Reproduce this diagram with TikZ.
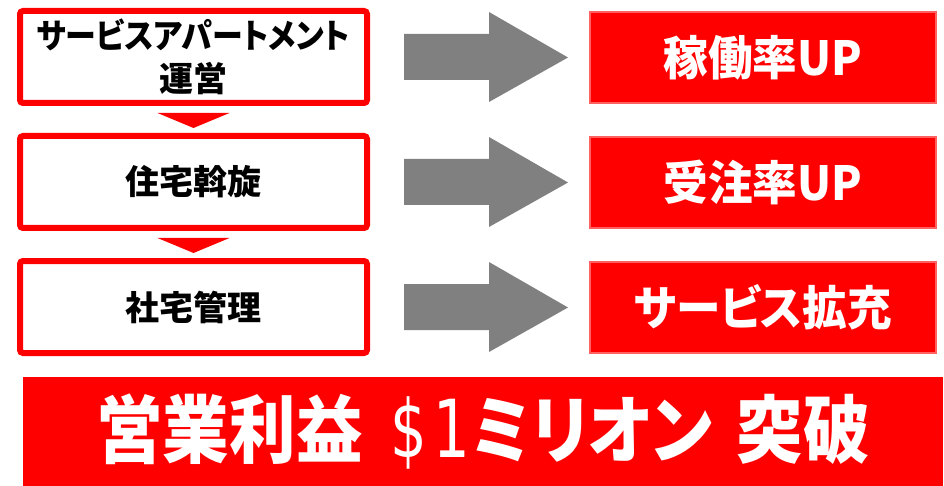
\documentclass[tikz,border=0pt]{standalone}
\usepackage{fontspec}
\usepackage{tikz}
\usetikzlibrary{calc}
\setmainfont{Noto Sans CJK JP}[RawFeature=+palt]
\newfontfamily\narrowfont{Noto Sans CJK JP}[RawFeature=+palt, FakeStretch=0.91]
\newfontfamily\resultfont{Noto Sans CJK JP}[RawFeature=+palt, FakeStretch=0.95]
\newfontfamily\goalfont{Noto Sans CJK JP}[RawFeature=+palt, FakeStretch=0.9]
\newfontfamily\dollarfont{DejaVu Sans ExtraLight}[FakeStretch=0.72]
\definecolor{boxred}{HTML}{FF0000}
\definecolor{edgered}{HTML}{FF6060}
\definecolor{arrowgray}{HTML}{808080}

\begin{document}
\begin{tikzpicture}[x=1pt, y=-1pt,
    stagebox/.style={draw=boxred, line width=6pt, rounded corners=3pt, fill=white,
      minimum width=347pt, minimum height=92pt, align=center,
      font=\fontsize{34}{43}\selectfont\bfseries},
    resultbox/.style={draw=edgered, line width=2pt, fill=boxred, text=white,
      minimum width=346pt, minimum height=91pt,
      font=\fontsize{47}{50}\resultfont\bfseries},
    goalbox/.style={fill=boxred, text=white, inner sep=0pt,
      minimum width=920pt, minimum height=109pt,
      font=\fontsize{74}{78}\goalfont\bfseries}]

    \useasboundingbox (0,0) rectangle (944,486);

    % left column
    \node[stagebox] (svc) at (193.5,57) {{\narrowfont\bfseries サービスアパートメント}\\運営};

    \node[stagebox] (hou) at (193.5,182) {住宅斡旋};

    \node[stagebox] (com) at (193.5,307) {社宅管理};


    % right column
    \node[resultbox] (occ) at (763,57.5) {稼働率UP};

    \node[resultbox] (ord) at (763,182.5) {受注率UP};

    \node[resultbox] (ext) at (763,307.5) {サービス拡充};


    % bottom line
    \node[goalbox] (goal) at (483,431.5)
      {営業利益\hspace{28pt}{\fontsize{80}{80}\dollarfont\$\hspace{6pt}1}\hspace{2pt}ミリオン\hspace{24pt}突破};


    % small red triangles
    \foreach \n in {svc,hou}
      \fill[boxred] ($(\n.south)+(-36,7)$) -- ($(\n.south)+(36,7)$)
        -- ($(\n.south)+(0,22)$) -- cycle;


    % gray block arrows
    \foreach \src/\dst in {svc/occ,hou/ord,com/ext}
      \fill[arrowgray] ($(\src.east)+(34,-23)$) -- ++(85,0) -- ++(0,-22)
        -- ($(\dst.west)+(-21,0)$) -- ($(\src.east)+(119,45)$) -- ++(0,-22)
        -- ($(\src.east)+(34,23)$) -- cycle;

  \end{tikzpicture}
\end{document}
